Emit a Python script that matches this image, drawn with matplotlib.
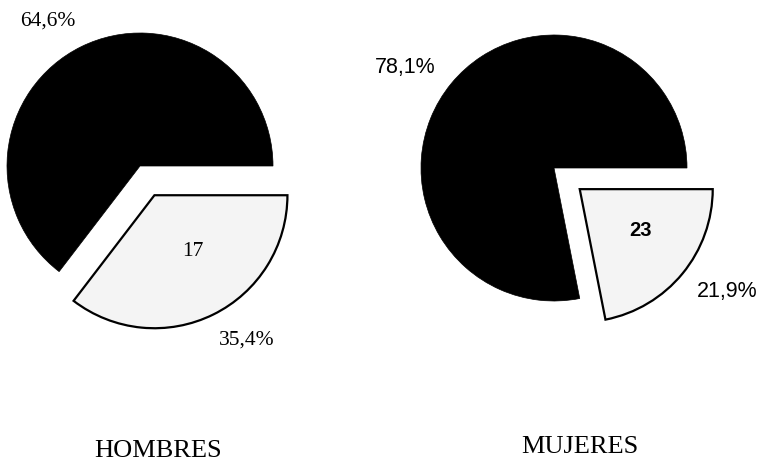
import matplotlib
matplotlib.use("Agg")
import matplotlib.pyplot as plt

# ---- data ----
groups = ["HOMBRES", "MUJERES"]
hombres_pct = [64.6, 35.4]
mujeres_pct = [78.1, 21.9]
slice_counts = ["17", "23"]   # number printed inside the small slice

W, H = 762, 463
fig = plt.figure(figsize=(W / 100, H / 100), dpi=100)
ax = fig.add_axes([0, 0, 1, 1])

def py(y):
    return H - y

R = 133
pies = [
    dict(vals=hombres_pct, center=(140, py(166)), expl=32.6, font="Liberation Serif",
         pct_pos=[(48, 21), (247, 340)], cnt_pos=(193, 251), title_pos=(158, 451),
         pct_size=15.5, cnt_size=15.5, cnt_weight="normal"),
    dict(vals=mujeres_pct, center=(554, py(168)), expl=33.3, font="Liberation Sans",
         pct_pos=[(405, 68), (727, 291)], cnt_pos=(640, 230), title_pos=(580, 447),
         pct_size=15.5, cnt_size=14.5, cnt_weight="bold"),
]

for i, p in enumerate(pies):
    wedges, _ = ax.pie(p["vals"], explode=[0, p["expl"]], startangle=0,
                       counterclock=True, radius=R, center=p["center"])
    wedges[0].set_facecolor("black")
    wedges[0].set_edgecolor("black")
    wedges[0].set_linewidth(0.5)
    wedges[1].set_facecolor("#f4f4f4")
    wedges[1].set_edgecolor("black")
    wedges[1].set_linewidth(1.6)
    for v, (x, y) in zip(p["vals"], p["pct_pos"]):
        ax.text(x, py(y), f"{v:.1f}%".replace(".", ","), ha="center", va="center",
                fontsize=p["pct_size"], family=p["font"], color="black")
    cx, cy = p["cnt_pos"]
    ax.text(cx, py(cy), slice_counts[i], ha="center", va="center",
            fontsize=p["cnt_size"], family=p["font"], fontweight=p["cnt_weight"])
    tx, ty = p["title_pos"]
    ax.text(tx, py(ty), groups[i], ha="center", va="center",
            fontsize=19, family="Liberation Serif", color="black")

ax.set_xlim(0, W)
ax.set_ylim(0, H)
ax.set_aspect("auto")
ax.axis("off")
fig.savefig("out.png", dpi=100, facecolor="white")
